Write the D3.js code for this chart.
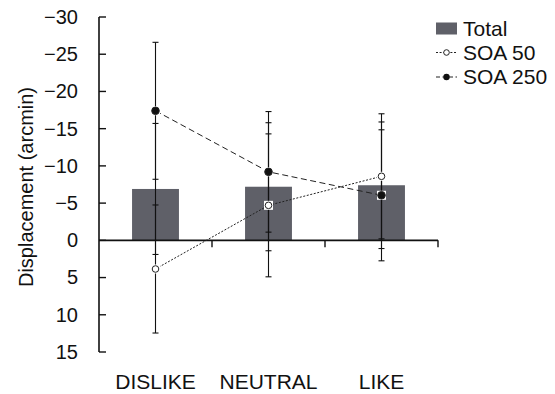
<!DOCTYPE html>
<html>
<head>
<meta charset="utf-8">
<script src="https://cdn.jsdelivr.net/npm/d3@7"></script>
<style>
  html, body { margin: 0; padding: 0; background: #fff; }
  svg { display: block; font-family: "Liberation Sans", Arial, sans-serif; }
</style>
</head>
<body>
<svg id="chart" width="555" height="394"></svg>
<script>
// Displacement by preference category (arcmin); negative values plotted upward
const categories = ["DISLIKE", "NEUTRAL", "LIKE"];
const totalMean  = [-6.9, -7.2, -7.4];
const totalErr   = [8.8, 8.6, 8.5];
const soa50Mean  = [3.85, -4.7, -8.6];
const soa50Err   = [8.6, 9.6, 8.4];
const soa250Mean = [-17.4, -9.2, -6.05];
const soa250Err  = [9.2, 8.1, 8.8];
const yTicks = [-30, -25, -20, -15, -10, -5, 0, 5, 10, 15];
const legendLabels = ["Total", "SOA 50", "SOA 250"];

const svg = d3.select("#chart");
const plotLeft = 99, plotRight = 438, plotTop = 17, plotBottom = 352;

const x = d3.scaleBand().domain(categories).range([plotLeft, plotRight]).paddingInner(0).paddingOuter(0);
const y = d3.scaleLinear().domain([-30, 15]).range([plotTop, plotBottom]);
const barW = x.bandwidth() * 0.415;
const cx = c => x(c) + x.bandwidth() / 2;
const barColor = "#5f6068";

// bars
svg.append("g").selectAll("rect").data(categories).join("rect")
  .attr("x", d => cx(d) - barW / 2)
  .attr("width", barW)
  .attr("y", (d, i) => y(Math.min(0, totalMean[i])))
  .attr("height", (d, i) => Math.abs(y(totalMean[i]) - y(0)))
  .attr("fill", barColor);

// y axis with inward ticks
const yAxis = d3.axisLeft(y).tickValues(yTicks).tickSize(0).tickPadding(21);
const gy = svg.append("g").attr("transform", `translate(${plotLeft},0)`).call(yAxis);
gy.select(".domain").remove();
gy.selectAll("text").attr("font-size", 20).attr("fill", "#111")
  .attr("font-family", "'Liberation Sans', Arial, sans-serif");
svg.append("line").attr("x1", plotLeft).attr("x2", plotLeft).attr("y1", plotTop).attr("y2", plotBottom)
  .attr("stroke", "#111").attr("stroke-width", 1.6);
svg.append("g").selectAll("line").data(yTicks).join("line")
  .attr("x1", plotLeft).attr("x2", plotLeft + 7)
  .attr("y1", d => y(d)).attr("y2", d => y(d))
  .attr("stroke", "#111").attr("stroke-width", 1.4);

// x axis at zero with downward ticks at category boundaries
svg.append("line").attr("x1", plotLeft).attr("x2", plotRight).attr("y1", y(0)).attr("y2", y(0))
  .attr("stroke", "#111").attr("stroke-width", 1.6);
svg.append("g").selectAll("line").data(categories).join("line")
  .attr("x1", d => x(d) + x.bandwidth()).attr("x2", d => x(d) + x.bandwidth())
  .attr("y1", y(0)).attr("y2", y(0) + 7)
  .attr("stroke", "#111").attr("stroke-width", 1.4);
svg.append("g").selectAll("text").data(categories).join("text")
  .attr("x", d => cx(d)).attr("y", 389)
  .attr("text-anchor", "middle").attr("font-size", 21).attr("fill", "#111")
  .text(d => d);

// y label
svg.append("text")
  .attr("transform", `translate(33,187) rotate(-90)`)
  .attr("text-anchor", "middle").attr("font-size", 20).attr("fill", "#111")
  .text("Displacement (arcmin)");

// error bars
function errorBars(means, errs) {
  const g = svg.append("g").attr("stroke", "#111").attr("stroke-width", 1.1);
  categories.forEach((c, i) => {
    const X = cx(c), y1 = y(means[i] - errs[i]), y2 = y(means[i] + errs[i]);
    g.append("line").attr("x1", X).attr("x2", X).attr("y1", y1).attr("y2", y2);
    g.append("line").attr("x1", X - 3).attr("x2", X + 3).attr("y1", y1).attr("y2", y1);
    g.append("line").attr("x1", X - 3).attr("x2", X + 3).attr("y1", y2).attr("y2", y2);
  });
}
errorBars(totalMean, totalErr);
errorBars(soa50Mean, soa50Err);
errorBars(soa250Mean, soa250Err);

// series lines
const line = d3.line().x((d, i) => cx(categories[i])).y(d => y(d));
svg.append("path").datum(soa250Mean).attr("d", line)
  .attr("fill", "none").attr("stroke", "#222").attr("stroke-width", 1)
  .attr("stroke-dasharray", "6,3.5");
svg.append("path").datum(soa50Mean).attr("d", line)
  .attr("fill", "none").attr("stroke", "#222").attr("stroke-width", 1)
  .attr("stroke-dasharray", "2,1.6");

// markers with white square backing
function markers(means, fill, r) {
  const g = svg.append("g");
  categories.forEach((c, i) => {
    const X = cx(c), Y = y(means[i]);
    g.append("rect").attr("x", X - 4.5).attr("y", Y - 4.5).attr("width", 9).attr("height", 9).attr("fill", "#fff");
    g.append("circle").attr("cx", X).attr("cy", Y).attr("r", r)
      .attr("fill", fill).attr("stroke", "#222").attr("stroke-width", 1);
  });
}
markers(soa50Mean, "#fff", 3.3);
markers(soa250Mean, "#111", 3.8);

// legend
const lg = svg.append("g");
lg.append("rect").attr("x", 436).attr("y", 22.5).attr("width", 21).attr("height", 12).attr("fill", barColor);
lg.append("line").attr("x1", 436).attr("x2", 457).attr("y1", 52.5).attr("y2", 52.5)
  .attr("stroke", "#222").attr("stroke-width", 1).attr("stroke-dasharray", "2,1.6");
lg.append("circle").attr("cx", 446.5).attr("cy", 52.5).attr("r", 2.8).attr("fill", "#fff").attr("stroke", "#222");
lg.append("line").attr("x1", 436).attr("x2", 457).attr("y1", 77).attr("y2", 77)
  .attr("stroke", "#222").attr("stroke-width", 1).attr("stroke-dasharray", "4,2.5");
lg.append("circle").attr("cx", 446.5).attr("cy", 77).attr("r", 3.2).attr("fill", "#111");
lg.selectAll("text").data(legendLabels).join("text")
  .attr("x", 463).attr("y", (d, i) => 35.5 + i * 24.4)
  .attr("font-size", 21).attr("fill", "#111").text(d => d);
</script>
</body>
</html>
